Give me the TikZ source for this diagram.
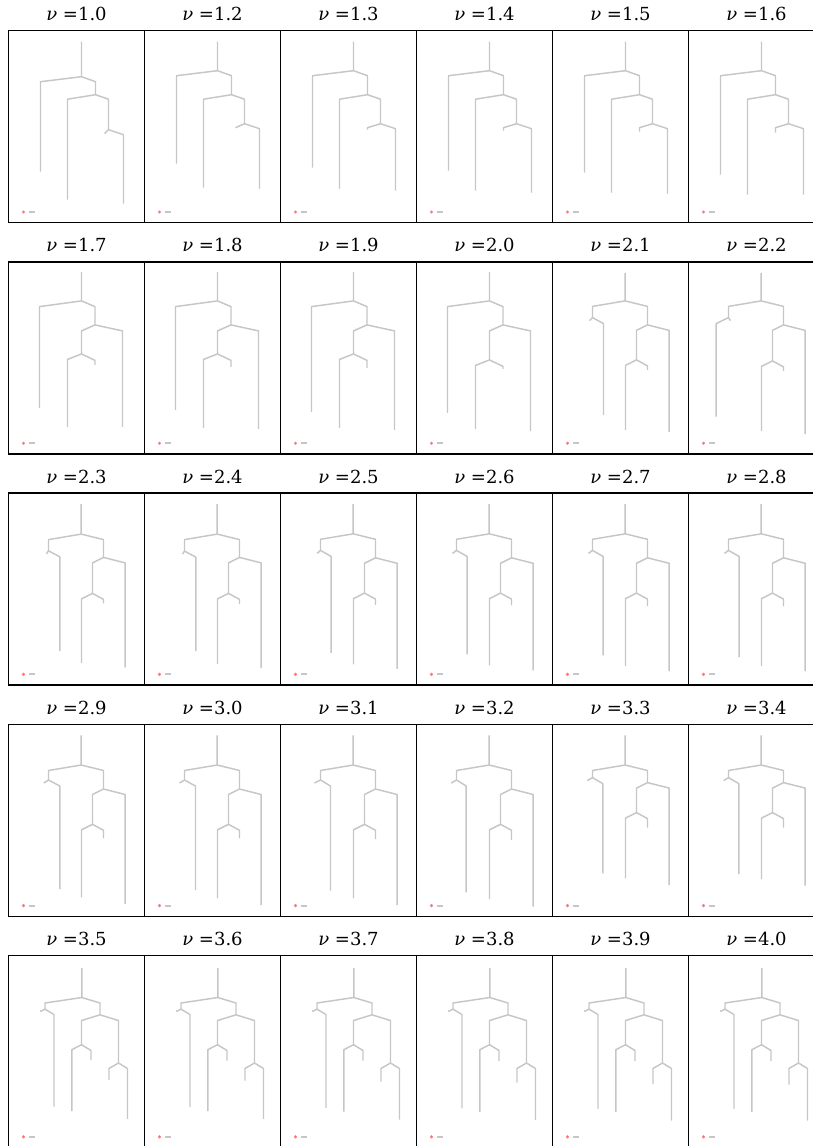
\documentclass[tikz,border=0pt]{standalone}
\usepackage{fontspec}
\setmainfont{DejaVu Serif}
\usetikzlibrary{positioning}
\definecolor{dendritegray}{RGB}{198,198,198}
\definecolor{markerred}{RGB}{255,120,120}
\tikzset{
  panel-frame/.style={draw=black, line width=1pt},
  panel-title/.style={font=\fontsize{13.5}{15}\selectfont, anchor=base, inner sep=0pt},
  dendrite/.style={draw=dendritegray, line width=1.1pt, line join=round},
  scale-dash/.style={draw=dendritegray, line width=1.5pt},
  seed-dot/.style={fill=markerred, draw=none}
}

\begin{document}
\begin{tikzpicture}[x=0.75pt, y=-0.75pt]
\useasboundingbox (0,0) rectangle (813,1146);

% Panel frames, titles and markers
\foreach \nuval [count=\i from 0] in {1.0,1.2,1.3,1.4,1.5,1.6,1.7,1.8,1.9,2.0,2.1,2.2,2.3,2.4,2.5,2.6,2.7,2.8,2.9,3.0,3.1,3.2,3.3,3.4,3.5,3.6,3.7,3.8,3.9,4.0}
{
  \pgfmathtruncatemacro{\col}{mod(\i,6)}
  \pgfmathtruncatemacro{\row}{div(\i,6)}
  \begin{scope}[shift={(8.5+136*\col, 30.7+231.2*\row)}]
    \draw[panel-frame] (0,0) rectangle (136,192);
    \node[panel-title] (title-\i) at (68,-10) {{\itshape ν} =\nuval};
    \fill[seed-dot] (15,181.3) circle (1.7);
    \draw[scale-dash] (20.5,181.3) -- (26.5,181.3);
  \end{scope}
}

% Dendrites, nu = 1.0 to 1.6
\foreach \col/\ry/\ly/\bl/\cy/\sx/\sy/\ce in {0/46/141/169/99/96/103/173, 1/40/133/157/93/91/97/158,
  2/40/137/158/93/87/99/160, 3/40/140/160/93/87/100/162, 4/40/142/162/93/87/101/163, 5/40/144/164/93/87/102/164}
{
  \begin{scope}[shift={(8.5+136*\col, 30.7)}]
    \draw[dendrite] (73,11) -- (73,\ry) -- (32,\ry+5) -- (32,\ly);
    \draw[dendrite] (73,\ry) -- (87,\ry+5) -- (87,64) -- (59,68.5) -- (59,\bl);
    \draw[dendrite] (87,64) -- (100,68.5) -- (100,\cy) -- (\sx,\cy+4) -- (\sx,\sy);
    \draw[dendrite] (100,\cy) -- (115,\cy+5) -- (115,\ce);
  \end{scope}
}

% Dendrites, nu = 1.7 to 2.0
\foreach \col/\ly/\dy/\bre/\dle/\dse in {0/146/92/165/165/103, 1/148/92/167/166/105, 2/150/92/168/166/106, 3/151/98/169/167/107}
{
  \begin{scope}[shift={(8.5+136*\col, 261.9)}]
    \draw[dendrite] (73,10) -- (73,39) -- (31,44.7) -- (31,\ly);
    \draw[dendrite] (73,39) -- (86.5,44.7) -- (86.5,63) -- (73,69) -- (73,\dy) -- (59,\dy+5.5) -- (59,\dle);
    \draw[dendrite] (86.5,63) -- (114,69) -- (114,\bre);
    \draw[dendrite] (73,\dy) -- (86.5,\dy+6.5) -- (86.5,\dse);
  \end{scope}
}

% Dendrites, nu = 2.1 to 3.4
\foreach \col/\row/\ry/\lny/\lx/\sx/\lre/\by/\dy/\bre/\dle/\dse in {
  4/1/39/55.7/51/37/153/63/98/170/168/108, 5/1/39/55.7/27.7/42/154.7/63/99/172/169/109,
  0/2/41/57.7/51.3/38/157.7/64.3/100.3/174.3/169.7/110.3, 1/2/41/58/51.3/38/158/64.3/100.3/175/171/111,
  2/2/40.7/57.3/50.6/36.7/159.7/64.7/100/175.7/171.3/111.7, 3/2/40.7/57.3/50.6/36/161.3/64.7/100/177.3/172.3/112.3,
  4/2/40.7/57.3/50.6/36/162.3/64.7/100/178/173/113, 5/2/40.7/57.3/50.6/36/164/64.7/100/178/173/113.3,
  0/3/40.7/55.7/51.3/35.3/164.7/64.7/100/179.7/173/114, 1/3/40.7/55.7/51/35/165.7/64.7/100/180.7/174/114,
  2/3/40.7/55.7/50/34/166.3/64.7/100/180.7/174/114.7, 3/3/40.7/55.7/49.7/34.7/168/64.7/100/182.3/174.7/115.7,
  4/3/40.7/53.3/50.3/34.7/149/58.3/88.3/160.7/154/103.3, 5/3/40.7/53.3/50.3/35.3/149.7/58.3/88.3/161.3/154.7/103.3}
{
  \begin{scope}[shift={(8.5+136*\col, 30.7+231.2*\row)}]
    \draw[dendrite] (72.7,11) -- (72.7,\ry) -- (40,\ry+5.5) -- (40,\lny) -- (\sx,\lny+3);
    \draw[dendrite] (40,\lny) -- (\lx,\lny+6) -- (\lx,\lre);
    \draw[dendrite] (72.7,\ry) -- (95,\ry+5.5) -- (95,\by) -- (84,\by+5.5) -- (84,\dy) -- (73,\dy+5.5) -- (73,\dle);
    \draw[dendrite] (95,\by) -- (116.7,\by+5.5) -- (116.7,\bre);
    \draw[dendrite] (84,\dy) -- (95,\dy+6) -- (95,\dse);
  \end{scope}
}

% Dendrites, nu = 3.5 to 4.0
\foreach \col/\lre/\dle/\dse/\ese/\ere in {0/151/155.7/104.3/124.3/163.3, 1/151.7/155.7/105/125/163.3,
  2/152.3/156/105.2/126/164, 3/152.8/156.3/105.5/127/164.5, 4/153.3/156.7/105.7/128.3/165, 5/153.3/156.7/105.7/129/165}
{
  \begin{scope}[shift={(8.5+136*\col, 955.5)}]
    \draw[dendrite] (73.3,12.7) -- (73.3,42) -- (36.5,47.5) -- (36.5,53.7) -- (31.5,56);
    \draw[dendrite] (36.5,53.7) -- (45.5,59) -- (45.5,\lre);
    \draw[dendrite] (73.3,42) -- (91.5,47.5) -- (91.5,59.3) -- (73,65) -- (73,89.2) -- (63.3,94.2) -- (63.3,\dle);
    \draw[dendrite] (73,89.2) -- (82.5,95) -- (82.5,\dse);
    \draw[dendrite] (91.5,59.3) -- (110,65) -- (110,107.5) -- (100.5,113) -- (100.5,\ese);
    \draw[dendrite] (110,107.5) -- (119,113) -- (119,\ere);
  \end{scope}
}
\end{tikzpicture}
\end{document}
